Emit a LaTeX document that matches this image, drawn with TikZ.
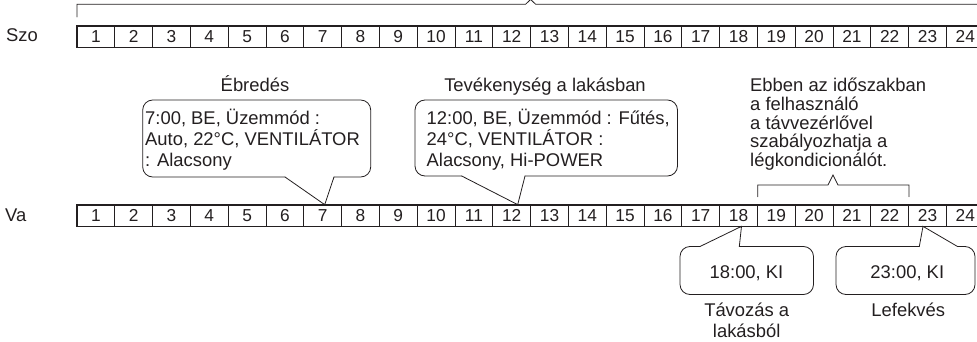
\documentclass[tikz,border=0pt]{standalone}
\usepackage{fontspec}
\setmainfont{Liberation Sans}
\newcommand\cellfnt{\fontsize{17.3}{20}\selectfont}
\newcommand\txtfnt{\fontsize{18.4}{20.5}\selectfont}
\definecolor{ink}{HTML}{231F20}
\begin{document}
\begin{tikzpicture}[x=1pt,y=-1pt,
  cell/.style={draw=ink, line width=0.7pt, minimum width=37.8pt, minimum height=21pt, inner sep=0pt, font=\cellfnt, text=ink},
  rowframe/.style={draw=ink, line width=1.3pt},
  callout/.style={draw=ink, line width=0.8pt, line cap=round},
  txt/.style={font=\txtfnt, text=ink, inner sep=0pt},
  ]
\useasboundingbox (0,0) rectangle (977,342);
\clip (0,0) rectangle (977,342);
% time rows
\foreach \i in {1,...,24} {
  \node[cell] (s\i) at ({77+(\i-0.5)*37.8},36.5) {\i};
  \node[cell] (v\i) at ({77+(\i-0.5)*37.8},215.5) {\i};
}
\draw[rowframe] (s1.north west) rectangle (s24.south east);
\draw[rowframe] (v1.north west) rectangle (v24.south east);
\node[txt, anchor=base west] (szo) at (6,41.5) {Szo};
\node[txt, anchor=base west] (va) at (5,221.5) {Va};
% top bracket
\draw[callout] (77,17) -- (77,4.3) -- (525.5,4.3) -- (530.6,-0.5) -- (535.7,4.3) -- (984,4.3) -- (984,17);
% callout 1
\node[txt, anchor=base] (lab1) at (255,92) {Ébredés};
\draw[callout, rounded corners=10pt] (285,177) -- (142.7,177) -- (142.7,100) -- (370.7,100) -- (370.7,177) -- (334,177);
\draw[callout] (334,177) -- ([xshift=2pt]v7.north) -- (285,177);
\node[txt, anchor=base west] (c1a) at (145,125) {7:00, BE, Üzemmód :};
\node[txt, anchor=base west] (c1b) at (145,145.5) {Auto, 22°C, VENTILÁTOR};
\node[txt, anchor=base west] (c1c) at (145,166) {: Alacsony};
% callout 2
\node[txt, anchor=base] (lab2) at (545,91.5) {Tevékenység a lakásban};
\draw[callout, rounded corners=10pt] (461.7,176) -- (415,176) -- (415,100) -- (677.5,100) -- (677.5,176) -- (525,176);
\draw[callout] (525,176) -- ([xshift=6pt]v12.north) -- (461.7,176);
\node[txt, anchor=base west] (c2a) at (426.5,125) {12:00, BE, Üzemmód : Fűtés,};
\node[txt, anchor=base west] (c2b) at (426.5,145.5) {24°C, VENTILÁTOR :};
\node[txt, anchor=base west] (c2c) at (426.5,166) {Alacsony, Hi-POWER};
% right text and bracket
\node[txt, anchor=base west] (r1) at (750,91.7) {Ebben az időszakban};
\node[txt, anchor=base west] (r2) at (750,110.4) {a felhasználó};
\node[txt, anchor=base west] (r3) at (750,129.2) {a távvezérlővel};
\node[txt, anchor=base west] (r4) at (750,147.9) {szabályozhatja a};
\node[txt, anchor=base west] (r5) at (750,166.7) {légkondicionálót.};
\draw[callout] (v18.north east |- 0,196.7) -- (v18.north east |- 0,185) -- (828,185) -- (833,175) -- (838,185) -- (v22.north east |- 0,185) -- (v22.north east |- 0,196.7);
% callout 18
\draw[callout, rounded corners=10pt] (739.3,246.5) -- (813.5,246.5) -- (813.5,294.5) -- (680,294.5) -- (680,246.5) -- (700,246.5);
\draw[callout] (700,246.5) -- ([xshift=3pt]v18.south) -- (739.3,246.5);
\node[txt, anchor=base] (c3) at (746.5,278) {18:00, KI};
\node[txt, anchor=base] (lab3a) at (746.7,316.7) {Távozás a};
\node[txt, anchor=base] (lab3b) at (746.7,337) {lakásból};
% callout 23
\draw[callout, rounded corners=10pt] (957.5,246.5) -- (975,246.5) -- (975,294.5) -- (836,294.5) -- (836,246.5) -- (919.3,246.5);
\draw[callout] (919.3,246.5) -- ([xshift=-4.5pt]v23.south) -- (957.5,246.5);
\node[txt, anchor=base] (c4) at (907.3,278) {23:00, KI};
\node[txt, anchor=base] (lab4) at (908.3,316.7) {Lefekvés};
\end{tikzpicture}
\end{document}
